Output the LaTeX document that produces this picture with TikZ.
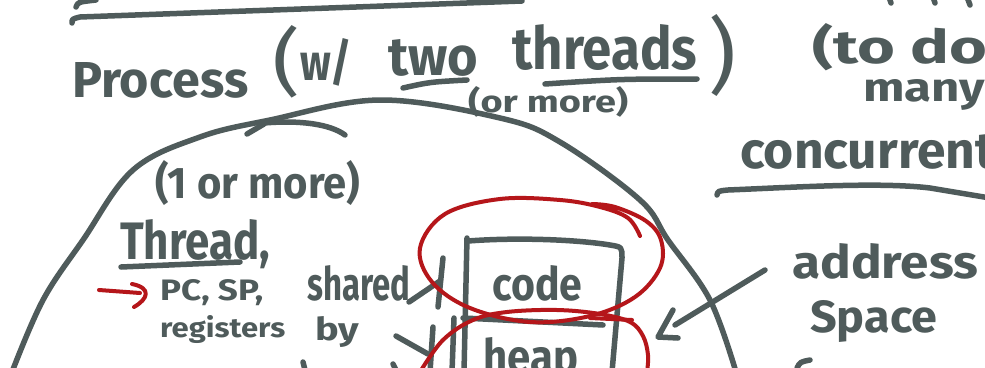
\documentclass[tikz,border=0pt]{standalone}
\usepackage{fontspec}
\setmainfont{Fira Sans}
\usepackage{graphicx}
\usetikzlibrary{positioning}
\definecolor{inkgray}{HTML}{4F5B5B}
\definecolor{inkred}{HTML}{B5161A}
% hand lettering: text stretched to a given width and height
\newcommand{\handtext}[3]{\resizebox{#1pt}{#2pt}{\bfseries #3}}
\newcommand{\handparen}[3]{\resizebox{#1pt}{#2pt}{\mdseries #3}}

\begin{document}
\begin{tikzpicture}
[x=1pt, y=-1pt, line cap=round, line join=round,
 ink/.style={draw=inkgray, line width=5.5pt},
 redink/.style={draw=inkred, line width=4pt},
 txt/.style={inner sep=0pt, anchor=base west, text=inkgray}]

\useasboundingbox (0,0) rectangle (985,367);
\fill[white] (0,0) rectangle (985,367);
\clip (0,0) rectangle (985,367);

% Rule at the top and the bits of writing above it:
\draw[ink] (72,23) .. controls (72,19) .. (80,17) -- (522,1);
\draw[ink] (76,7) .. controls (78,2) .. (96,0);
\draw[ink] (889,-3) -- (891,3);
\draw[ink] (933,-3) -- (935,3);
\draw[ink] (967,-3) -- (970,5);

% Title:
\node[txt] (process) at (72,97)  {\handtext{176}{35}{Process}};
\node[txt] (lparen)  at (272,87) {\handparen{28}{62}{(}};
\node[txt] (with)    at (300,80) {\handtext{52}{42}{w/}};
\node[txt] (two)     at (388,75) {\handtext{90}{36}{two}};
\node[txt] (threads) at (512,69) {\handtext{185}{45}{threads}};
\node[txt] (rparen)  at (708,84) {\handparen{28}{70}{)}};
\node[txt] (ormore)  at (468,112) {\handtext{160}{26}{(or more)}};
\draw[ink] (403,88) .. controls (430,82) .. (467,80);
\draw[ink] (545,84) .. controls (620,79) .. (697,79);

% Note on the right:
\node[txt] (todo)       at (812,63)  {\handtext{175}{40}{(to do}};
\node[txt] (many)       at (863,101) {\handtext{122}{22}{many}};
\node[txt] (concurrent) at (740,168) {\handtext{255}{34}{concurrent}};
\draw[ink] (717,195) .. controls (718,191) .. (728,190)
  .. controls (800,187) and (880,182) .. (930,188) -- (990,198);

% Process outline:
\draw[ink] plot[smooth, tension=0.6] coordinates {(12,372) (43,300) (83,240)
  (133,170) (200,137) (270,120) (380,100) (500,118) (560,142) (640,200)
  (668,240) (710,300) (736,372)};
\draw[ink] (247,134) -- (264,124);
\draw[ink] (264,123) .. controls (300,120) and (330,124) .. (345,135);

% Thread part:
\node[txt] (oneormore) at (155,198) {\handtext{205}{38}{(1 or more)}};
\node[txt] (thread)    at (120,259) {\handtext{150}{40}{Thread,}};
\draw[ink] (121,267) -- (240,262);
\node[txt] (pcsp)      at (160,300) {\handtext{103}{21}{PC, SP,}};
\node[txt] (registers) at (160,337) {\handtext{125}{22}{registers}};
\draw[redink] (99,290) -- (140,293);
\draw[redink] (132,284) .. controls (152,288) and (148,299) .. (134,307);

% Shared by:
\node[txt] (shared) at (307,300) {\handtext{103}{35}{shared}};
\node[txt] (by)     at (315,340) {\handtext{44}{24}{by}};
\draw[ink] (443,258) -- (438,307);
\draw[ink] (409,302) -- (440,281);
\draw[ink] (433,327) -- (430,372);
\draw[ink] (396,336) -- (428,354);
\draw[ink] (303,362) -- (305,370);
\draw[ink] (393,364) -- (396,370);

% Code and heap box:
\draw[ink] (467,238) -- (464,372);
\draw[ink] (454,318) -- (452,372);
\draw[ink] (468,241) .. controls (520,237) and (580,240) .. (610,245)
  .. controls (622,247) .. (622,258) -- (612,372);
\draw[ink] (463,318) -- (603,325);
\node[txt] (code) at (492,300) {\handtext{90}{35}{code}};
\node[txt] (heap) at (483,373) {\handtext{95}{36}{heap}};

% Red rings round code and heap:
\draw[redink] plot[smooth, tension=0.6] coordinates {(640,236) (628,218)
  (600,207) (560,200) (500,199) (445,214) (420,248) (432,282) (470,308)
  (530,322) (590,316) (635,297) (660,268) (661,240) (646,221) (615,207)
  (592,204)};
\draw[redink] (590,318) -- (632,320);
\draw[redink] plot[smooth, tension=0.6] coordinates {(420,372) (443,340)
  (473,320) (507,312) (557,310) (600,314) (630,322) (643,336) (648,355)
  (647,372)};

% Address space:
\node[txt] (address) at (792,278) {\handtext{186}{35}{address}};
\node[txt] (space)   at (810,332) {\handtext{127}{32}{Space}};
\coordinate (aspace) at (765,270);
\coordinate (boxtip) at (658,337);
\draw[ink] (aspace) -- (675,325);
\draw[ink] (673,310) -- (boxtip) -- (678,338);
\draw[ink] (797,368) .. controls (800,362) .. (810,360);

\end{tikzpicture}
\end{document}
